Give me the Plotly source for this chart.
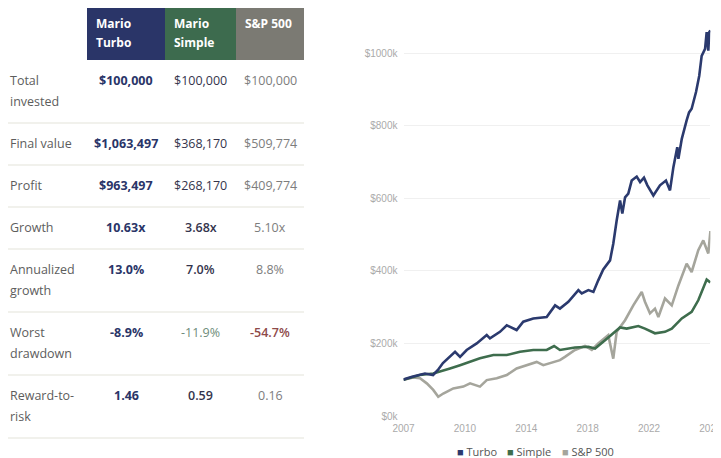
import numpy as np
import plotly.graph_objects as go

# ---------------- chart data (portfolio value, $ thousands) ----------------
turbo_t = [2007.00, 2007.09, 2007.53, 2008.02, 2008.33, 2008.83, 2009.13, 2009.44, 2009.88,
           2010.19, 2010.50, 2010.91, 2011.53, 2012.15, 2012.35, 2012.97, 2013.39, 2014.00,
           2014.41, 2015.03, 2015.86, 2016.38, 2016.68, 2017.20, 2017.82, 2018.03, 2018.44,
           2018.75, 2019.05, 2019.36, 2019.78, 2019.98, 2020.19, 2020.40, 2020.54, 2020.71,
           2020.91, 2021.12, 2021.43, 2021.64, 2021.88, 2022.09, 2022.46, 2022.87, 2023.24,
           2023.49, 2023.70, 2023.94, 2024.01, 2024.22, 2024.52, 2024.67, 2024.83, 2025.10,
           2025.30, 2025.45, 2025.66, 2025.76, 2025.86, 2025.92, 2025.99]
turbo_v = [100, 102, 108, 113, 117, 113, 127, 146, 163,
           177, 163, 182, 200, 223, 214, 232, 250, 237,
           260, 269, 273, 305, 296, 315, 347, 338, 347,
           342, 374, 404, 429, 475, 539, 594, 558, 603,
           613, 649, 660, 645, 657, 636, 608, 636, 649,
           622, 686, 741, 709, 764, 815, 837, 847, 893,
           938, 993, 1012, 1058, 1007, 1058, 1063]

simple_t = [2007.00, 2008.02, 2008.84, 2009.26, 2009.88, 2010.50, 2011.12, 2011.73, 2012.56,
            2013.39, 2014.21, 2015.03, 2015.86, 2016.32, 2016.68, 2017.61, 2018.44, 2018.85,
            2019.47, 2019.98, 2020.40, 2020.81, 2021.53, 2021.94, 2022.56, 2023.18, 2023.60,
            2024.22, 2024.83, 2025.24, 2025.61, 2025.76, 2025.99]
simple_v = [100, 113, 117, 122, 131, 140, 149, 159, 168,
            168, 177, 182, 182, 193, 182, 189, 191, 186,
            209, 228, 244, 241, 248, 241, 228, 232, 241,
            269, 287, 319, 356, 376, 368]

sp_t = [2007.00, 2007.60, 2008.02, 2008.44, 2008.84, 2009.15, 2009.46, 2010.08, 2010.70,
        2011.12, 2011.73, 2012.15, 2012.77, 2013.39, 2014.00, 2014.62, 2015.24, 2015.65,
        2016.27, 2016.68, 2016.99, 2017.61, 2018.23, 2018.65, 2019.05, 2019.67, 2019.98,
        2020.19, 2020.71, 2021.22, 2021.74, 2021.94, 2022.25, 2022.56, 2022.77, 2023.18,
        2023.60, 2024.01, 2024.52, 2024.83, 2025.24, 2025.55, 2025.86, 2025.99]
sp_v = [100, 106, 104, 90, 72, 53, 62, 76, 81,
        90, 81, 99, 104, 113, 131, 140, 149, 140,
        149, 154, 163, 182, 193, 182, 200, 223, 158,
        232, 264, 305, 342, 315, 283, 296, 273, 324,
        305, 360, 420, 397, 457, 484, 448, 510]

x_tick_labels = ["2007", "2010", "2014", "2018", "2022", "2026"]
series_names = ["Turbo", "Simple", "S&P 500"]

# ---------------- table data ----------------
header_lines = [["Mario", "Turbo"], ["Mario", "Simple"], ["S&P 500"]]
row_labels = [["Total", "invested"], ["Final value"], ["Profit"], ["Growth"],
              ["Annualized", "growth"], ["Worst", "drawdown"], ["Reward-to-", "risk"]]
turbo_col = ["$100,000", "$1,063,497", "$963,497", "10.63x", "13.0%", "-8.9%", "1.46"]
simple_col = ["$100,000", "$368,170", "$268,170", "3.68x", "7.0%", "-11.9%", "0.59"]
sp_col = ["$100,000", "$509,774", "$409,774", "5.10x", "8.8%", "-54.7%", "0.16"]

# ---------------- styles / layout ----------------
PAGE_W, PAGE_H, OFF = 721, 458, 8          # page size and body margin of the page
W, H = PAGE_W - OFF, PAGE_H - OFF          # figure size so it ends at the page edge
NAVY, GREEN, GREY = "#2a3568", "#3d6b4e", "#7b7a73"
LINE_COLORS = ["#2b3a6e", "#3e6d4d", "#a5a59c"]
TABLE_FONT = "Open Sans, Noto Sans, sans-serif"
AXIS_FONT = "Liberation Sans, Arial, sans-serif"
LABEL_COLOR = "#5d5d5d"

col_styles = [
    [(NAVY, 700)] * 7,
    [("#34344c", 400), ("#34344c", 400), ("#34344c", 400), ("#34344c", 600),
     ("#34344c", 600), ("#6e8c7a", 400), ("#34344c", 600)],
    [("#7d7d7d", 400)] * 5 + [("#8e4a4a", 600), ("#7d7d7d", 400)],
]
col_left = [87, 165, 236]
col_right = [165, 236, 304]
header_fill = [NAVY, GREEN, GREY]
header_top, header_bot = 4, 60
line_h = 21


def fx(x):
    """page pixel x -> paper fraction"""
    return (x - OFF) / W


def fy(y):
    """page pixel y -> paper fraction"""
    return 1 - (y - OFF) / H


fig = go.Figure()

# line traces (S&P underneath, Turbo on top)
for t, v, name, color in [(sp_t, sp_v, series_names[2], LINE_COLORS[2]),
                          (simple_t, simple_v, series_names[1], LINE_COLORS[1]),
                          (turbo_t, turbo_v, series_names[0], LINE_COLORS[0])]:
    fig.add_trace(go.Scatter(x=t, y=v, mode="lines", name=name, showlegend=False,
                             line=dict(color=color, width=2.6), hoverinfo="skip"))

shapes = []
annotations = []

# header cells with rounded top corners
r = 4
for i in range(3):
    x0, x1 = fx(col_left[i]), fx(col_right[i])
    yt, yb = fy(header_top), fy(header_bot)
    rx, ry = r / W, r / H
    path = (f"M {x0},{yb} L {x0},{yt - ry} Q {x0},{yt} {x0 + rx},{yt} "
            f"L {x1 - rx},{yt} Q {x1},{yt} {x1},{yt - ry} L {x1},{yb} Z")
    shapes.append(dict(type="path", path=path, xref="paper", yref="paper",
                       fillcolor=header_fill[i], line=dict(width=0), layer="below"))
    for k, txt in enumerate(header_lines[i]):
        annotations.append(dict(text=txt, x=fx(col_left[i] + 7), y=fy(23.5 + 19 * k),
                                xref="paper", yref="paper", xanchor="left", yanchor="middle",
                                showarrow=False,
                                font=dict(family=TABLE_FONT, size=12, color="white", weight=700)))

# body rows
cols = [turbo_col, simple_col, sp_col]
top = header_bot
for ri, lab in enumerate(row_labels):
    n = len(lab)
    height = line_h * (n + 1)
    for k, txt in enumerate(lab):
        annotations.append(dict(text=txt, x=fx(8), y=fy(top + 20.5 + 20.5 * k),
                                xref="paper", yref="paper", xanchor="left", yanchor="middle",
                                showarrow=False,
                                font=dict(family=TABLE_FONT, size=12.5, color=LABEL_COLOR)))
    for ci in range(3):
        color, weight = col_styles[ci][ri]
        annotations.append(dict(text=cols[ci][ri], x=fx((col_left[ci] + col_right[ci]) / 2),
                                y=fy(top + 20.5), xref="paper", yref="paper",
                                xanchor="center", yanchor="middle", showarrow=False,
                                font=dict(family=TABLE_FONT, size=12.5, color=color, weight=weight)))
    top += height
    shapes.append(dict(type="line", xref="paper", yref="paper", x0=0, x1=fx(304),
                       y0=fy(top), y1=fy(top), line=dict(color="#f1f1ec", width=2)))

# legend entries
legend_x = [456, 506, 561]
for name, color, lx in zip(series_names, LINE_COLORS, legend_x):
    annotations.append(dict(text=f'<span style="color:{color}">■</span> {name}',
                            x=fx(lx - 1), y=fy(451), xref="paper", yref="paper",
                            xanchor="left", yanchor="middle", showarrow=False,
                            font=dict(family=TABLE_FONT, size=11, color="#555555")))

x_start, x_end = turbo_t[0], turbo_t[-1]
fig.update_layout(
    width=W, height=H, margin=dict(l=0, r=0, t=0, b=0, pad=0, autoexpand=False),
    paper_bgcolor="white", plot_bgcolor="white",
    shapes=shapes, annotations=annotations,
    xaxis=dict(domain=[fx(403.5), fx(710.4)], range=[x_start, x_end], automargin=False,
               tickvals=list(np.linspace(x_start, x_end, len(x_tick_labels))),
               ticktext=x_tick_labels, showgrid=False, zeroline=False, showline=False,
               ticks="", ticklabelstandoff=5, ticklabeloverflow="allow",
               tickfont=dict(family=AXIS_FONT, size=10, color="#aaaaaa")),
    yaxis=dict(domain=[fy(416), fy(17)], range=[0, 1100], dtick=200, automargin=False,
               tickprefix="$", ticksuffix="k", showgrid=True, gridcolor="#f0f0f0",
               zeroline=False, showline=False, ticks="", ticklabelstandoff=5,
               tickfont=dict(family=AXIS_FONT, size=10, color="#aaaaaa")),
)

fig.write_html("out.html")
